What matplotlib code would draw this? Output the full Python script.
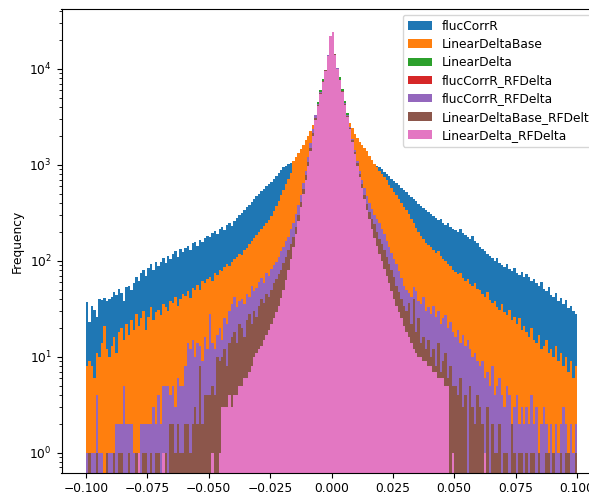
import numpy as np
import matplotlib
matplotlib.use("Agg")
import matplotlib.pyplot as plt

plt.rcParams['font.size'] = 8.8

# histogram: 200 bins between -0.1 and 0.1, counts
n_bins = 200
x_range = (-0.1, 0.1)

labels = ['flucCorrR', 'LinearDeltaBase', 'LinearDelta', 'flucCorrR_RFDelta',
          'flucCorrR_RFDelta', 'LinearDeltaBase_RFDelta', 'LinearDelta_RFDelta']

flucCorrR = [
    37, 23, 34, 31, 26, 40, 39, 41, 38, 40,
    42, 47, 44, 51, 46, 38, 53, 55, 49, 58,
    68, 62, 74, 80, 70, 85, 92, 81, 96, 88,
    98, 106, 94, 112, 104, 118, 125, 110, 132, 122,
    136, 144, 130, 152, 158, 142, 166, 156, 174, 182,
    178, 194, 205, 190, 214, 224, 210, 236, 248, 232,
    262, 280, 298, 318, 338, 360, 385, 410, 440, 470,
    500, 530, 560, 595, 630, 665, 720, 770, 830, 890,
    940, 980, 1010, 1040, 1050, 1090, 1120, 1150, 1180, 1210,
    1240, 1270, 1300, 1330, 1360, 1390, 1410, 1430, 1450, 1460,
    1460, 1450, 1430, 1410, 1390, 1360, 1330, 1300, 1270, 1240,
    1210, 1180, 1150, 1120, 1090, 1060, 1030, 1010, 980, 950,
    900, 850, 800, 760, 720, 680, 640, 610, 575, 545,
    520, 490, 465, 440, 420, 395, 372, 355, 338, 322,
    310, 296, 282, 268, 275, 250, 238, 246, 225, 216,
    208, 200, 212, 195, 186, 178, 170, 181, 162, 155,
    140, 132, 125, 118, 112, 106, 100, 108, 95, 90,
    86, 92, 82, 78, 84, 75, 71, 77, 68, 72,
    68, 62, 65, 58, 55, 60, 51, 48, 53, 44,
    42, 46, 38, 41, 35, 39, 32, 34, 30, 28,
]

LinearDeltaBase = [
    8, 9, 8, 6, 11, 10, 14, 21, 12, 10,
    13, 16, 11, 18, 20, 15, 22, 17, 24, 19,
    28, 21, 25, 30, 19, 26, 33, 24, 29, 31,
    27, 35, 33, 30, 38, 36, 42, 34, 40, 45,
    43, 48, 41, 52, 50, 56, 49, 61, 58, 64,
    68, 62, 74, 71, 80, 78, 86, 92, 88, 97,
    104, 110, 118, 114, 128, 135, 148, 160, 172, 185,
    200, 215, 232, 248, 268, 290, 330, 370, 420, 480,
    550, 630, 720, 820, 1100, 1200, 1320, 1460, 1620, 1800,
    2000, 2250, 2600, 2700, 2900, 3100, 3300, 3500, 3650, 3750,
    3750, 3600, 3450, 3300, 3150, 3000, 2900, 2700, 2400, 2100,
    1900, 1750, 1600, 1500, 1380, 1250, 1130, 1020, 940, 860,
    810, 740, 690, 620, 580, 520, 480, 440, 400, 365,
    340, 305, 275, 245, 220, 200, 182, 168, 155, 145,
    138, 130, 121, 126, 112, 104, 100, 93, 88, 81,
    77, 72, 75, 66, 61, 64, 57, 54, 58, 51,
    49, 45, 42, 47, 39, 36, 38, 33, 31, 35,
    29, 27, 31, 24, 26, 22, 25, 19, 21, 18,
    16, 20, 15, 14, 17, 12, 13, 15, 11, 12,
    10, 13, 9, 11, 8, 10, 7, 9, 6, 8,
]

flucCorrR_RFDelta = [
    1, 0, 1, 1, 4, 1, 1, 0, 1, 1,
    1, 1, 2, 2, 2, 5, 2, 2, 2, 1,
    1, 1, 2, 2, 2, 2, 2, 3, 2, 4,
    2, 5, 5, 5, 4, 5, 3, 6, 5, 5,
    8, 14, 12, 15, 10, 14, 13, 9, 16, 12,
    28, 14, 12, 17, 20, 15, 25, 22, 30, 35,
    42, 33, 38, 40, 35, 45, 42, 55, 48, 52,
    60, 66, 58, 74, 70, 82, 90, 98, 110, 125,
    140, 160, 175, 215, 250, 310, 380, 480, 640, 870,
    1200, 1700, 2350, 3300, 4300, 5700, 7500, 9800, 13900, 22200,
    24200, 14300, 10200, 7750, 5900, 4400, 3300, 2500, 1880, 1420,
    1100, 870, 700, 570, 470, 400, 345, 300, 270, 245,
    215, 190, 160, 140, 120, 105, 92, 78, 66, 55,
    50, 46, 42, 53, 48, 38, 35, 42, 30, 33,
    28, 34, 26, 30, 22, 25, 27, 20, 23, 18,
    16, 19, 14, 17, 13, 15, 12, 10, 11, 9,
    8, 9, 6, 7, 5, 8, 4, 5, 6, 4,
    3, 5, 4, 2, 3, 4, 2, 3, 2, 3,
    2, 4, 2, 3, 1, 2, 3, 2, 1, 2,
    1, 2, 1, 2, 3, 2, 1, 2, 1, 2,
]

LinearDeltaBase_RFDelta = [
    0, 1, 0, 0, 1, 0, 0, 0, 1, 0,
    0, 1, 0, 1, 1, 0, 0, 1, 0, 0,
    1, 1, 0, 1, 1, 0, 1, 0, 1, 1,
    0, 1, 1, 0, 2, 2, 1, 2, 1, 1,
    2, 2, 1, 2, 3, 2, 8, 2, 4, 4,
    4, 5, 4, 10, 9, 10, 12, 8, 14, 16,
    18, 14, 22, 20, 16, 24, 28, 22, 30, 26,
    34, 40, 36, 45, 42, 50, 58, 64, 72, 80,
    95, 110, 130, 150, 175, 225, 300, 410, 560, 780,
    1080, 1500, 2150, 3100, 4200, 5600, 7400, 9700, 13800, 22100,
    24500, 14200, 10100, 7700, 5850, 4350, 3250, 2450, 1820, 1360,
    1040, 800, 630, 490, 390, 320, 270, 240, 200, 170,
    150, 130, 110, 92, 80, 68, 55, 47, 40, 34,
    30, 36, 22, 40, 18, 25, 14, 16, 12, 15,
    10, 12, 8, 14, 7, 9, 11, 6, 8, 5,
    5, 4, 6, 3, 4, 0, 5, 3, 2, 4,
    3, 2, 1, 3, 0, 2, 1, 1, 2, 0,
    1, 1, 0, 2, 1, 0, 1, 1, 0, 1,
    0, 1, 1, 0, 1, 0, 0, 1, 1, 0,
    1, 0, 0, 1, 0, 1, 1, 0, 0, 1,
]

LinearDelta_RFDelta = [
    0, 0, 0, 0, 0, 0, 0, 0, 0, 0,
    0, 0, 0, 0, 0, 0, 0, 0, 0, 0,
    0, 1, 0, 0, 0, 0, 0, 0, 0, 0,
    0, 1, 0, 0, 0, 0, 0, 0, 0, 0,
    0, 0, 0, 0, 0, 0, 0, 0, 0, 0,
    0, 1, 0, 0, 1, 3, 3, 3, 4, 3,
    4, 4, 5, 5, 6, 6, 7, 8, 10, 11,
    12, 13, 15, 17, 19, 22, 25, 29, 34, 41,
    50, 63, 80, 105, 140, 190, 260, 360, 500, 690,
    980, 1400, 2000, 2950, 4100, 5500, 7300, 9600, 13700, 22000,
    24000, 14100, 10000, 7600, 5750, 4250, 3150, 2350, 1740, 1290,
    980, 740, 575, 436, 340, 270, 214, 174, 141, 117,
    100, 83, 69, 58, 48, 40, 34, 29, 25, 21,
    18, 16, 14, 12, 11, 10, 10, 9, 9, 8,
    8, 7, 7, 6, 6, 6, 5, 5, 0, 1,
    0, 0, 0, 0, 0, 0, 0, 0, 0, 0,
    0, 0, 1, 0, 0, 0, 0, 0, 0, 0,
    0, 0, 0, 0, 0, 0, 0, 0, 0, 0,
    0, 0, 0, 0, 0, 0, 0, 0, 0, 0,
    0, 0, 0, 0, 0, 0, 0, 0, 0, 0,
]

# LinearDelta sits just above LinearDelta_RFDelta near the peak, equal elsewhere
LinearDelta = list(LinearDelta_RFDelta)
linear_delta_peak = {94: 4550, 95: 6050, 96: 7950, 103: 8200, 104: 6250, 105: 4650, 106: 3500}
for k, v in linear_delta_peak.items():
    LinearDelta[k] = v

data = [flucCorrR, LinearDeltaBase, LinearDelta, flucCorrR_RFDelta,
        flucCorrR_RFDelta, LinearDeltaBase_RFDelta, LinearDelta_RFDelta]

edges = np.linspace(x_range[0], x_range[1], n_bins + 1)
centers = (edges[:-1] + edges[1:]) / 2

fig = plt.figure(figsize=(5.89, 4.95), dpi=100)
ax = fig.add_axes([61.5 / 589, 1 - 472.7 / 495, 540 / 589, 463.2 / 495])

for i, (lab, counts) in enumerate(zip(labels, data)):
    ax.hist(centers, bins=edges, weights=counts, color='C%d' % i, label=lab)

ax.set_yscale('log')
ax.set_xlim(-0.11, 0.11)
ax.set_ylim(10 ** -0.21, 10 ** 4.62)
ax.set_xticks([-0.1, -0.075, -0.05, -0.025, 0, 0.025, 0.05, 0.075, 0.1])
ax.set_ylabel('Frequency')
ax.legend(loc='upper left', bbox_to_anchor=(403 / 589, 1 - 15 / 495),
          bbox_transform=fig.transFigure, borderaxespad=0, fontsize=8.8,
          labelspacing=0.42)

fig.savefig('out.png')
